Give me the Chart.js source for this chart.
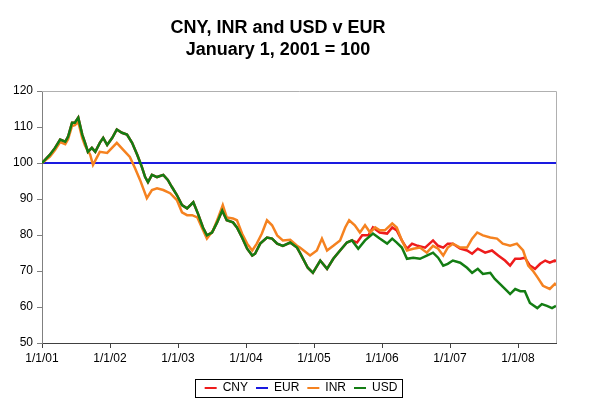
<!DOCTYPE html>
<html>
<head>
<meta charset="utf-8">
<script src="https://cdn.jsdelivr.net/npm/chart.js@4.4.1/dist/chart.umd.min.js"></script>
<style>
  html, body { margin: 0; padding: 0; background: #fff; }
</style>
</head>
<body>
<canvas id="fxChart" width="593" height="405"></canvas>
<script>
// months since 1/1/01 and index value (1/1/01 = 100)
const tickMonths = [0, 12, 24, 36, 48, 60, 72, 84];
const tickLabels = ['1/1/01', '1/1/02', '1/1/03', '1/1/04', '1/1/05', '1/1/06', '1/1/07', '1/1/08'];

const eurPoints = [[0, 100], [90.7, 100]];

const usdPoints = [
  [0, 100], [1.4, 102.3], [2.3, 104.2], [3.2, 106.5], [4.1, 105.9], [4.6, 107.3], [5.3, 111.2], [5.8, 111.2],
  [6.4, 112.6], [7.1, 107.9], [7.6, 105.6], [8.1, 103.1], [8.8, 104.2], [9.4, 103.1], [10.2, 105.6], [10.8, 107],
  [11.5, 105], [12.4, 107], [13.2, 109.3], [14.1, 108.4], [15, 107.9], [15.9, 105.6], [16.8, 102.3], [17.6, 99],
  [18.2, 96.1], [18.7, 94.7], [19.4, 96.7], [20.3, 96.1], [21.4, 96.7], [22.2, 95.3], [22.9, 93.4], [23.8, 91.1],
  [24.7, 88.3], [25.6, 87.4], [26.7, 89.1], [27.5, 86], [28.4, 82.1], [29.1, 79.9], [30, 80.7], [30.9, 83.5],
  [31.8, 86.8], [32.6, 84.1], [33.7, 83.5], [34.4, 82.1], [35.3, 79.3], [36.2, 76.2], [37.1, 74.3], [37.6, 74.8],
  [38.5, 77.6], [39.7, 79.3], [40.6, 79], [41.5, 77.6], [42.5, 77], [43.8, 77.9], [45, 76.5], [45.5, 75.1],
  [46.9, 70.9], [47.8, 69.5], [49.1, 72.9], [50.3, 70.6], [51.4, 73.4], [52.6, 75.7], [53.8, 77.9], [54.7, 78.5],
  [55.8, 76.2], [57, 78.5], [58.4, 80.4], [59.6, 79], [60.9, 77.6], [61.8, 79], [62.6, 77.9], [63.5, 76.5],
  [64.4, 73.4], [65.5, 73.7], [66.7, 73.4], [67.9, 74.3], [69, 75.1], [69.9, 73.7], [70.8, 71.5], [71.6, 72],
  [72.5, 72.9], [73.8, 72.3], [75, 70.9], [75.9, 69.5], [76.9, 70.6], [77.8, 69.2], [79.1, 69.5], [79.9, 67.8],
  [80.8, 66.4], [82.1, 64.4], [82.6, 63.6], [83.5, 65], [84.4, 64.4], [85.2, 64.4], [86.1, 61.1], [87.4, 59.7],
  [88.2, 60.8], [89.1, 60.3], [90, 59.7], [90.7, 60.3]
];

const inrPoints = [
  [0, 100], [1.4, 101.8], [2.3, 103.6], [3.2, 105.8], [4.1, 105.2], [4.6, 106.6], [5.3, 110.3], [5.8, 110.5],
  [6.4, 111.4], [7.1, 107], [7.6, 104.8], [8.5, 102.3], [9, 99.5], [10.2, 103.1], [11.5, 102.8], [13.2, 105.6],
  [14.3, 103.7], [15.5, 101.7], [16.4, 98.6], [17.3, 95.3], [18.5, 90.2], [19.4, 92.5], [20.3, 93], [21.4, 92.5],
  [22.6, 91.6], [23.8, 89.7], [24.7, 86.3], [25.6, 85.5], [26.5, 85.5], [27.4, 84.9], [28.2, 82.1], [29.1, 79],
  [30.2, 81.3], [31.1, 84.9], [31.9, 88.3], [32.6, 84.9], [33.7, 84.6], [34.4, 84.1], [35.3, 80.4], [36.2, 77.6],
  [37.1, 75.7], [37.9, 77.6], [38.8, 80.4], [39.7, 84.1], [40.6, 82.7], [41.5, 79.9], [42.5, 78.5], [43.8, 78.7],
  [45, 77], [45.5, 76.5], [47.3, 74.3], [48.5, 75.7], [49.4, 79], [50.3, 75.7], [51.4, 77], [52.6, 78.5],
  [53.5, 82.1], [54.2, 84.1], [55.2, 82.7], [56.1, 80.7], [57, 82.7], [57.9, 80.7], [58.8, 82.1], [59.6, 81.3],
  [60.5, 81.3], [61.8, 83.2], [62.6, 82.1], [63.5, 78.5], [64.4, 75.7], [65.5, 76.2], [66.7, 76.5], [67.9, 75.1],
  [69, 77], [69.9, 76.2], [70.8, 74.3], [71.6, 76.5], [72.5, 77.6], [73.8, 76.5], [75, 76.5], [75.9, 79],
  [76.8, 80.7], [77.8, 79.9], [79.1, 79.3], [80.3, 79], [81.3, 77.6], [82.6, 77], [83.8, 77.6], [84.9, 75.7],
  [85.8, 71.5], [86.6, 70.1], [87.5, 68.1], [88.4, 65.9], [89.6, 65], [90.5, 66.4], [90.7, 66]
];

// CNY sits under the USD line until the July 2005 revaluation
const cnyPoints = [
  [0, 100], [1.4, 102.3], [2.3, 104.2], [3.2, 106.5], [4.1, 105.9], [4.6, 107.3], [5.3, 111.2], [5.8, 111.2],
  [6.4, 112.6], [7.1, 107.9], [7.6, 105.6], [8.1, 103.1], [8.8, 104.2], [9.4, 103.1], [10.2, 105.6], [10.8, 107],
  [11.5, 105], [12.4, 107], [13.2, 109.3], [14.1, 108.4], [15, 107.9], [15.9, 105.6], [16.8, 102.3], [17.6, 99],
  [18.2, 96.1], [18.7, 94.7], [19.4, 96.7], [20.3, 96.1], [21.4, 96.7], [22.2, 95.3], [22.9, 93.4], [23.8, 91.1],
  [24.7, 88.3], [25.6, 87.4], [26.7, 89.1], [27.5, 86], [28.4, 82.1], [29.1, 79.9], [30, 80.7], [30.9, 83.5],
  [31.8, 86.8], [32.6, 84.1], [33.7, 83.5], [34.4, 82.1], [35.3, 79.3], [36.2, 76.2], [37.1, 74.3], [37.6, 74.8],
  [38.5, 77.6], [39.7, 79.3], [40.6, 79], [41.5, 77.6], [42.5, 77], [43.8, 77.9], [45, 76.5], [45.5, 75.1],
  [46.9, 70.9], [47.8, 69.5], [49.1, 72.9], [50.3, 70.6], [51.4, 73.4], [52.6, 75.7], [53.8, 77.9], [54.7, 78.5],
  [55.6, 77.9], [56.5, 79.9], [57.6, 79.9], [58.4, 82.1], [59.6, 80.7], [60.9, 80.4], [61.8, 82.1], [62.6, 81.3],
  [63.5, 78.5], [64.4, 76.2], [65.3, 77.6], [66.3, 77], [67.6, 76.5], [69, 78.5], [69.9, 77], [70.8, 76.5],
  [71.6, 77.6], [72.5, 77.6], [73.8, 76.2], [75, 75.7], [75.9, 74.8], [76.9, 76.2], [78.2, 75.1], [79.4, 75.7],
  [80.5, 74.3], [81.7, 72.9], [82.6, 71.5], [83.5, 73.4], [84.4, 73.4], [85.2, 73.7], [86.1, 71.5], [87, 70.6],
  [87.9, 72], [88.8, 72.9], [89.6, 72.3], [90.5, 72.9], [90.7, 72.6]
];

const FONT = "'Liberation Sans', Arial, sans-serif";
const toXY = pts => pts.map(p => ({ x: p[0], y: p[1] }));

// grey frame on top and right of the plot area, like the Excel original
const plotFrame = {
  id: 'plotFrame',
  beforeDatasetsDraw(chart) {
    const a = chart.chartArea;
    const ctx = chart.ctx;
    ctx.save();
    ctx.strokeStyle = '#b0b0b0';
    ctx.lineWidth = 1;
    ctx.beginPath();
    ctx.moveTo(a.left, a.top + 0.5);
    ctx.lineTo(a.right + 0.5, a.top + 0.5);
    ctx.lineTo(a.right + 0.5, a.bottom);
    ctx.stroke();
    ctx.restore();
  }
};

// legend sits centred on the whole picture, inside a thin box
const legendBox = {
  id: 'legendBox',
  afterLayout(chart) {
    const lg = chart.legend;
    const h = lg.height;
    const dx = 301 - (lg.left + lg.right) / 2;
    lg.left += dx;
    lg.right += dx;
    lg.top = 374;
    lg.bottom = 374 + h;
  },
  afterDraw(chart) {
    const boxes = chart.legend.legendHitBoxes;
    if (!boxes || !boxes.length) return;
    const left = Math.min(...boxes.map(b => b.left)) - 10;
    const right = Math.max(...boxes.map(b => b.left + b.width)) + 4;
    const top = Math.min(...boxes.map(b => b.top)) - 3;
    const bottom = Math.max(...boxes.map(b => b.top + b.height)) + 3;
    const ctx = chart.ctx;
    ctx.save();
    ctx.strokeStyle = '#000';
    ctx.lineWidth = 1;
    ctx.strokeRect(Math.round(left) + 0.5, Math.round(top) + 0.5, Math.round(right - left), Math.round(bottom - top));
    ctx.restore();
  }
};

const ctx = document.getElementById('fxChart').getContext('2d');
const fxChart = new Chart(ctx, {
  type: 'line',
  data: {
    datasets: [
      { label: 'CNY', data: toXY(cnyPoints), borderColor: '#ee1c1c', order: 3 },
      { label: 'EUR', data: toXY(eurPoints), borderColor: '#1a1ae0', order: 2, borderWidth: 2 },
      { label: 'INR', data: toXY(inrPoints), borderColor: '#f58220', order: 1 },
      { label: 'USD', data: toXY(usdPoints), borderColor: '#137d13', order: 0 }
    ]
  },
  options: {
    responsive: false,
    animation: false,
    layout: { padding: { left: 0, right: 37, top: 0, bottom: 4 } },
    elements: {
      point: { radius: 0 },
      line: { borderWidth: 2.5, tension: 0, fill: false }
    },
    scales: {
      x: {
        type: 'linear',
        min: 0,
        max: 90.7,
        afterBuildTicks: axis => { axis.ticks = tickMonths.map(v => ({ value: v })); },
        afterFit: axis => { axis.height = 28; },
        ticks: {
          autoSkip: false,
          maxRotation: 0,
          color: '#000',
          font: { family: FONT, size: 12 },
          padding: 3,
          callback: v => tickLabels[tickMonths.indexOf(v)]
        },
        grid: { drawOnChartArea: false, tickLength: 5, color: '#404040' },
        border: { color: '#404040', width: 1 }
      },
      y: {
        min: 50,
        max: 120,
        afterFit: axis => { axis.width = 42; },
        ticks: {
          stepSize: 10,
          color: '#000',
          font: { family: FONT, size: 12 },
          padding: 4
        },
        grid: { drawOnChartArea: false, tickLength: 5, color: '#808080' },
        border: { color: '#808080', width: 1 }
      }
    },
    plugins: {
      title: {
        display: true,
        text: ['CNY, INR and USD v EUR', 'January 1, 2001 = 100'],
        color: '#000',
        font: { family: FONT, size: 18, weight: 'bold', lineHeight: '22px' },
        padding: { top: 17, bottom: 30 }
      },
      legend: {
        position: 'bottom',
        labels: {
          color: '#000',
          font: { family: FONT, size: 12 },
          usePointStyle: true,
          pointStyle: 'line',
          pointStyleWidth: 12,
          padding: 8,
          generateLabels: chart => chart.data.datasets.map((ds, i) => ({
            text: ds.label,
            strokeStyle: ds.borderColor,
            fillStyle: ds.borderColor,
            lineWidth: 2,
            pointStyle: 'line',
            datasetIndex: i,
            fontColor: '#000'
          }))
        }
      },
      tooltip: { enabled: false }
    }
  },
  plugins: [plotFrame, legendBox]
});
</script>
</body>
</html>
